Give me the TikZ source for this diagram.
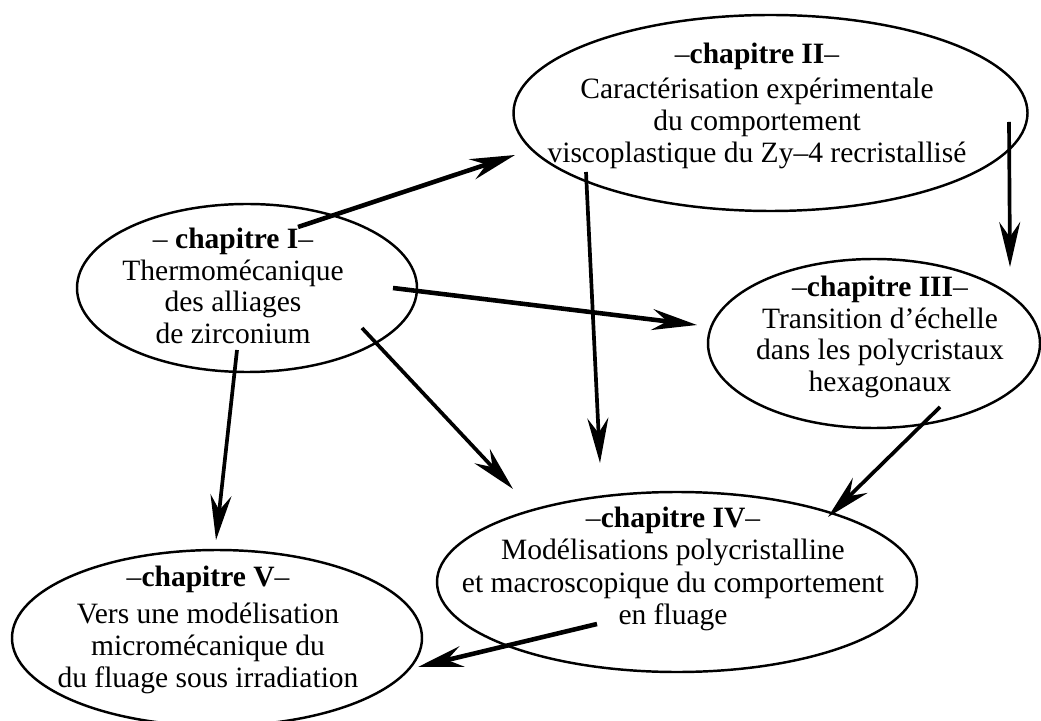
\documentclass[tikz,border=0pt]{standalone}
\usepackage{fontspec}
\setmainfont{Liberation Serif}
\usetikzlibrary{arrows.meta,shapes.geometric}

\tikzset{
  chap/.style = {draw, ellipse, line width = 1.4pt, inner sep = 0pt},
  chaptext/.style = {align = center, inner sep = 0pt, font = \fontsize{16.8}{18}\selectfont},
  fleche/.style = {-{Stealth[length = 0.9cm, width = 0.42cm, inset = 0.3cm]}, line width = 2.1pt},
  grossefleche/.style = {fleche, line width = 2.6pt}
}

\begin{document}
\begin{tikzpicture}
\useasboundingbox (0,0) rectangle (20.82,14.4);

% chapitre I
\node [chap, minimum width = 6.8cm, minimum height = 3.36cm] (ell1) at (4.94,8.64) {};
\node [chaptext] (txt1) at (4.66,8.68)
  {– \textbf{chapitre I}–\\ Thermomécanique\\ des alliages\\ de zirconium};

% chapitre II
\node [chap, minimum width = 10.28cm, minimum height = 3.92cm] (ell2) at (15.41,12.14) {};
\node [chaptext] (txt2) at (15.14,12.28)
  {–\textbf{chapitre II}–\\[2pt] Caractérisation expérimentale\\ du comportement\\ viscoplastique du Zy–4 recristallisé};

% chapitre III
\node [chap, minimum width = 6.64cm, minimum height = 3.38cm] (ell3) at (17.48,7.53) {};
\node [chaptext] (txt3) at (17.6,7.66)
  {–\textbf{chapitre III}–\\ Transition d’échelle\\ dans les polycristaux\\ hexagonaux};

% chapitre IV
\node [chap, minimum width = 9.6cm, minimum height = 3.6cm] (ell4) at (13.54,2.76) {};
\node [chaptext] (txt4) at (13.46,3.02)
  {–\textbf{chapitre IV}–\\ Modélisations polycristalline\\[1pt] et macroscopique du comportement\\ en fluage};

% chapitre V
\node [chap, minimum width = 8.2cm, minimum height = 3.52cm] (ell5) at (4.34,1.64) {};
\node [chaptext] (txt5) at (4.16,1.8)
  {–\textbf{chapitre V}–\\[3pt] Vers une modélisation\\ micromécanique du\\ du fluage sous irradiation};

% bouts des fleches
\coordinate (d12) at (5.96,9.86);   \coordinate (f12) at (10.30,11.30);
\coordinate (d13) at (7.86,8.64);   \coordinate (f13) at (13.94,7.90);
\coordinate (d14) at (7.24,7.84);   \coordinate (f14) at (10.26,4.62);
\coordinate (d15) at (4.74,7.40);   \coordinate (f15) at (4.32,3.60);
\coordinate (d24) at (11.72,10.96); \coordinate (f24) at (12.00,5.14);
\coordinate (d23) at (20.18,11.96); \coordinate (f23) at (20.20,9.06);
\coordinate (d34) at (18.80,6.26);  \coordinate (f34) at (16.56,4.06);
\coordinate (d45) at (11.94,1.92);  \coordinate (f45) at (8.36,1.06);

% fleches
\draw [grossefleche] (d12) -- (f12);
\draw [grossefleche] (d13) -- (f13);
\draw [fleche] (d14) -- (f14);
\draw [fleche] (d15) -- (f15);
\draw [fleche] (d24) -- (f24);
\draw [fleche] (d23) -- (f23);
\draw [fleche] (d34) -- (f34);
\draw [grossefleche] (d45) -- (f45);
\end{tikzpicture}
\end{document}
